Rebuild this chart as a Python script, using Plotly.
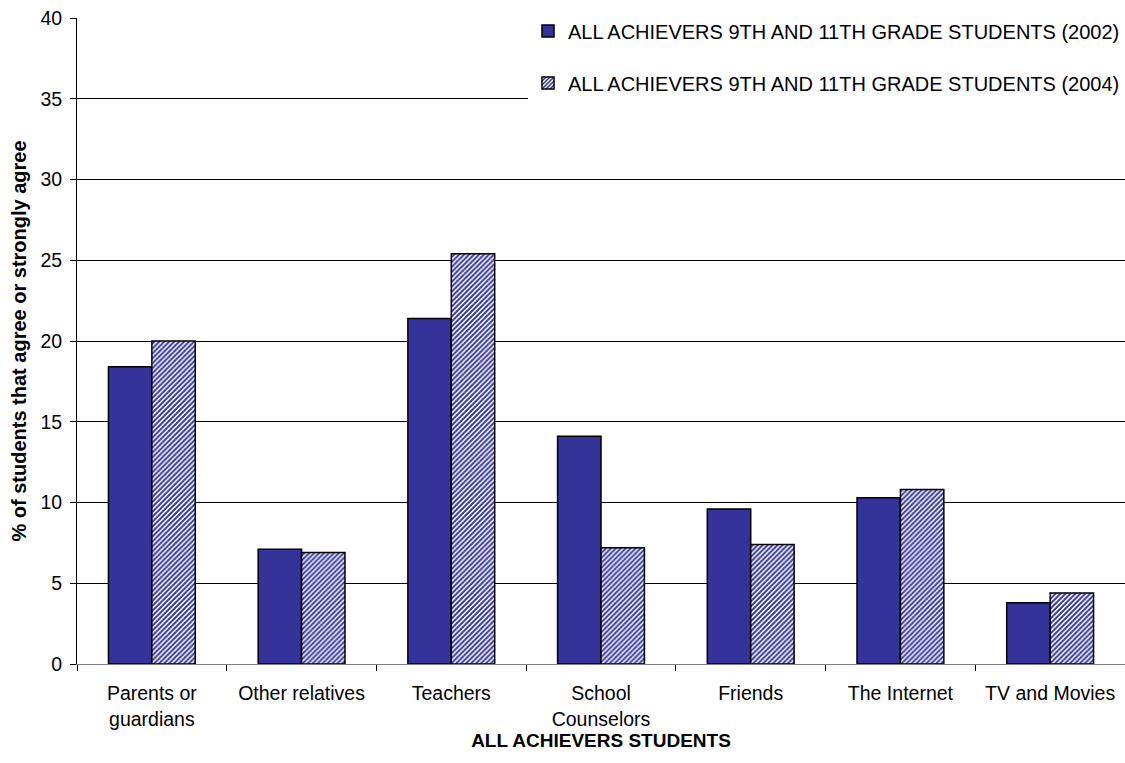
import plotly.graph_objects as go

categories = ["Parents or<br>guardians", "Other relatives", "Teachers", "School<br>Counselors",
              "Friends", "The Internet", "TV and Movies"]
values_2002 = [18.4, 7.1, 21.4, 14.1, 9.6, 10.3, 3.8]
values_2004 = [20.0, 6.9, 25.4, 7.2, 7.4, 10.8, 4.4]
name_2002 = "ALL ACHIEVERS 9TH AND 11TH GRADE STUDENTS (2002)"
name_2004 = "ALL ACHIEVERS 9TH AND 11TH GRADE STUDENTS (2004)"

NAVY = "#333399"

fig = go.Figure()
fig.add_trace(go.Bar(
    x=categories, y=values_2002, name=name_2002, legendgroup="a",
    marker=dict(color=NAVY, line=dict(color="black", width=1.5)),
))
fig.add_trace(go.Bar(
    x=categories, y=values_2004, name=name_2004, legendgroup="b",
    marker=dict(color="white", line=dict(color="black", width=1.5),
                pattern=dict(shape="/", fgcolor=NAVY, bgcolor="white",
                             size=3.5, solidity=0.55, fillmode="replace")),
))

fig.update_layout(
    width=1125, height=763,
    margin=dict(l=77, r=0, t=18, b=99),
    paper_bgcolor="white", plot_bgcolor="white",
    font=dict(family="Arial, Liberation Sans", size=20, color="black"),
    barmode="group", bargap=0.42, bargroupgap=0,
    showlegend=True,
    legend=dict(
        x=1, xanchor="right", y=1.01, yanchor="top",
        bgcolor="white", borderwidth=0,
        font=dict(size=20), traceorder="grouped", tracegroupgap=23,
        itemwidth=30,
    ),
    xaxis=dict(
        title=dict(text="<b>ALL ACHIEVERS STUDENTS</b>", font=dict(size=19), standoff=4),
        showgrid=False, showline=True, linecolor="#808080", linewidth=1,
        ticks="outside", tickson="boundaries", ticklen=6, tickcolor="black",
        ticklabelstandoff=12,
        range=[-0.5, 6.5], tickfont=dict(size=19.5),
    ),
    yaxis=dict(
        title=dict(text="<b>% of students that agree or strongly agree</b>", font=dict(size=20), standoff=8),
        range=[0, 40], dtick=5, showgrid=True, gridcolor="black", gridwidth=1,
        showline=True, linecolor="black", linewidth=1,
        ticks="outside", ticklen=6, tickcolor="black", ticklabelstandoff=4,
        zeroline=False, tickfont=dict(size=19.5),
    ),
)

fig.write_html("out.html")
